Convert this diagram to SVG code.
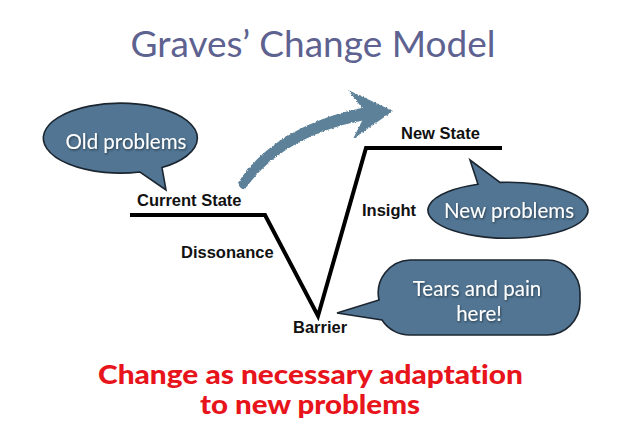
<svg xmlns="http://www.w3.org/2000/svg" width="627" height="438" viewBox="0 0 627 438">
<defs>
<style>
.title{font-family:"Lato","Open Sans",sans-serif;font-size:37px;fill:#5d6290;}
.bub{fill:#517593;stroke:#1b2630;stroke-width:1.6;}
.btxt{font-family:"Lato","Open Sans",sans-serif;font-size:20.5px;fill:#ffffff;text-anchor:middle;}
.lbl{font-family:"Liberation Sans",Arial,sans-serif;font-size:16.5px;font-weight:bold;fill:#111;}
.red{font-family:"Lato","Open Sans",sans-serif;font-size:27px;font-weight:900;fill:#e8141c;font-variant-ligatures:none;}
.arr{fill:#5c8199;}
</style>
<filter id="sh" x="-10%" y="-10%" width="120%" height="130%">
<feDropShadow dx="0.8" dy="1.2" stdDeviation="0.8" flood-color="#000" flood-opacity="0.5"/>
</filter>
<filter id="chalk" x="-10%" y="-10%" width="120%" height="120%">
<feTurbulence type="fractalNoise" baseFrequency="0.6" numOctaves="2" seed="3" result="n"/>
<feDisplacementMap in="SourceGraphic" in2="n" scale="3" xChannelSelector="R" yChannelSelector="G"/>
</filter>
</defs>
<text class="title" x="313" y="57" text-anchor="middle">Graves’ Change Model</text>

<g id="connectors">
<polyline points="130,215 265,215 318,316 366,148 502,148" fill="none" stroke="#000" stroke-width="4" stroke-linejoin="miter"/>
<g id="big-arrow" class="arr" filter="url(#chalk)">
<path d="M238,183 C259,149 303,118 372,106 L372,119 C312,128 270,154 245,189 Q240,190 238,183 Z"/>
<polygon points="348,90 393,111 353,139 366,113"/>
</g>
</g>

<g id="old-problems">
<path class="bub" d="M162,167.6 A77 35 0 1 0 140,172 L166,190 Z"/>
<text class="btxt" x="126" y="149" filter="url(#sh)">Old problems</text>
</g>

<g id="new-problems">
<path class="bub" d="M478,184.3 L470,160 L500,182.4 A80 28 0 1 1 478,184.3 Z"/>
<text class="btxt" x="509" y="218" filter="url(#sh)">New problems</text>
</g>

<g id="tears">
<path class="bub" d="M410,260 H547 A33 33 0 0 1 580,293 V302 A33 33 0 0 1 547,335 H410 A33 33 0 0 1 382,320 L337,313 L379,300 A33 33 0 0 1 410,260 Z"/>
<text class="btxt" x="477" y="296" filter="url(#sh)">Tears and pain</text>
<text class="btxt" x="479" y="321" filter="url(#sh)">here!</text>
</g>

<g id="current-state"><text class="lbl" x="137" y="206">Current State</text></g>
<g id="dissonance"><text class="lbl" x="181" y="258">Dissonance</text></g>
<g id="barrier"><text class="lbl" x="293" y="333">Barrier</text></g>
<g id="insight"><text class="lbl" x="362" y="216">Insight</text></g>
<g id="new-state"><text class="lbl" x="401" y="139">New State</text></g>

<text class="red" x="98" y="384" textLength="425" lengthAdjust="spacingAndGlyphs">Change as necessary adaptation</text>
<text class="red" x="200" y="414" textLength="220" lengthAdjust="spacingAndGlyphs">to new problems</text>
</svg>
